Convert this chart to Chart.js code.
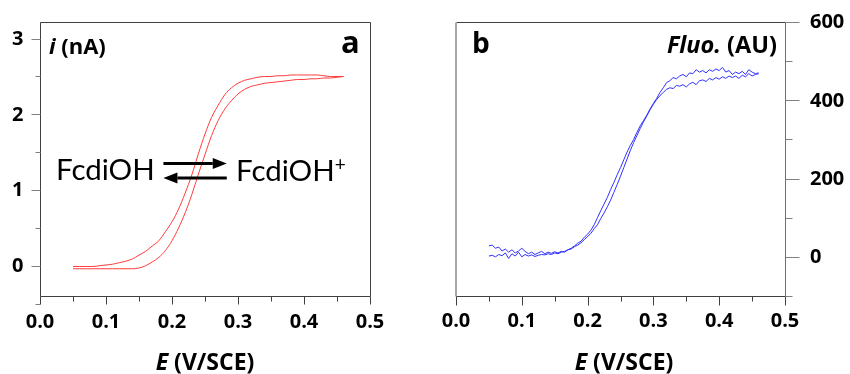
<!DOCTYPE html>
<html>
<head>
<meta charset="utf-8">
<script src="https://cdn.jsdelivr.net/npm/chart.js@4.4.1/dist/chart.umd.min.js"></script>
<style>
  body { margin: 0; background: #fff; width: 850px; height: 374px; position: relative; overflow: hidden; font-family: "Open Sans", sans-serif; }
  canvas { position: absolute; top: 0; }
  .lbl { position: absolute; line-height: 1; white-space: nowrap; color: #000; }
  .b { font-weight: bold; }
  .eq { font-family: Lato, sans-serif; }
  .tk { position: absolute; line-height: 1; white-space: nowrap; color: #000; font-weight: bold; font-size: 20px; }
</style>
</head>
<body>
<canvas id="cv-a" width="400" height="374" style="left:0"></canvas>
<canvas id="cv-b" width="430" height="374" style="left:420px"></canvas>

<div class="lbl b" style="left:49px;top:34px;font-size:22px"><i>i</i> (nA)</div>
<div class="lbl b" style="left:341px;top:26px;font-size:31px">a</div>
<div class="lbl eq" style="left:56px;top:154px;font-size:29.5px">FcdiOH</div>
<div class="lbl eq" style="left:236px;top:154px;font-size:29.5px">FcdiOH<sup style="font-size:19px;vertical-align:10px">+</sup></div>
<div class="lbl b" style="left:105px;width:200px;text-align:center;top:350px;font-size:23px"><i>E</i> (V/SCE)</div>

<div class="lbl b" style="left:472px;top:28px;font-size:28px">b</div>
<div class="lbl b" style="right:73px;top:33px;font-size:23.5px"><i>Fluo.</i> (AU)</div>
<div class="lbl b" style="left:524px;width:200px;text-align:center;top:350px;font-size:23px"><i>E</i> (V/SCE)</div>

<script>
// panel a: cyclic voltammogram, E (V/SCE) vs i (nA)
const eA = [0.05, 0.06, 0.07, 0.08, 0.09, 0.10, 0.11, 0.12, 0.13, 0.14, 0.15, 0.16, 0.17, 0.18,
  0.19, 0.20, 0.21, 0.22, 0.23, 0.24, 0.25, 0.26, 0.27, 0.28, 0.29, 0.30, 0.31, 0.32,
  0.33, 0.34, 0.35, 0.36, 0.37, 0.38, 0.39, 0.40, 0.41, 0.42, 0.43, 0.44, 0.45, 0.46];
const iUpper = [-0.01, -0.01, -0.01, -0.01, 0.00, 0.01, 0.02, 0.04, 0.06, 0.09, 0.14, 0.19, 0.26, 0.33,
  0.45, 0.58, 0.75, 0.96, 1.20, 1.48, 1.74, 1.96, 2.12, 2.26, 2.35, 2.41, 2.45, 2.47,
  2.49, 2.50, 2.50, 2.51, 2.51, 2.52, 2.52, 2.52, 2.52, 2.52, 2.51, 2.50, 2.50, 2.50];
const iLower = [-0.04, -0.04, -0.04, -0.04, -0.04, -0.04, -0.04, -0.04, -0.04, -0.04, -0.03, 0.00, 0.05, 0.11,
  0.20, 0.33, 0.50, 0.70, 0.94, 1.21, 1.47, 1.72, 1.92, 2.07, 2.18, 2.27, 2.33, 2.37,
  2.39, 2.41, 2.42, 2.43, 2.44, 2.45, 2.46, 2.46, 2.47, 2.47, 2.48, 2.48, 2.49, 2.50];

// panel b: fluorescence, two scans
const eB = [0.050, 0.055, 0.060, 0.065, 0.070, 0.075, 0.080, 0.085, 0.090, 0.095,
  0.100, 0.105, 0.110, 0.115, 0.120, 0.125, 0.130, 0.135, 0.140, 0.145,
  0.150, 0.155, 0.160, 0.165, 0.170, 0.175, 0.180, 0.185, 0.190, 0.195,
  0.200, 0.205, 0.210, 0.215, 0.220, 0.225, 0.230, 0.235, 0.240, 0.245,
  0.250, 0.255, 0.260, 0.265, 0.270, 0.275, 0.280, 0.285, 0.290, 0.295,
  0.300, 0.305, 0.310, 0.315, 0.320, 0.325, 0.330, 0.335, 0.340, 0.345,
  0.350, 0.355, 0.360, 0.365, 0.370, 0.375, 0.380, 0.385, 0.390, 0.395,
  0.400, 0.405, 0.410, 0.415, 0.420, 0.425, 0.430, 0.435, 0.440, 0.445,
  0.450, 0.455, 0.460];
const fluoScan1 = [28, 30, 22, 25, 15, 20, 12, 18, 10, 15,
  22, 14, 8, 12, 6, 10, 14, 8, 12, 9,
  13, 10, 14, 12, 18, 22, 28, 35, 40, 50,
  58, 68, 82, 100, 118, 135, 152, 172, 190, 210,
  228, 248, 268, 285, 300, 318, 335, 348, 362, 378,
  392, 405, 420, 432, 445, 450, 458, 455, 462, 466,
  460, 470, 468, 478, 472, 476, 470, 478, 474, 480,
  476, 484, 472, 476, 466, 472, 468, 474, 466, 478,
  472, 468, 470];
const fluoScan2 = [2, 4, 0, 6, 3, 10, -4, 8, 2, 12,
  0, 6, 2, 5, 1, 4, 6, 5, 8, 6,
  10, 8, 12, 14, 18, 20, 26, 30, 36, 44,
  52, 60, 72, 82, 98, 112, 128, 145, 165, 185,
  206, 228, 250, 272, 292, 310, 328, 345, 360, 376,
  390, 402, 412, 420, 428, 432, 430, 438, 436, 440,
  434, 442, 446, 440, 450, 452, 448, 456, 452, 458,
  454, 460, 456, 462, 458, 462, 456, 464, 460, 468,
  462, 466, 468];

// ticks
const eTicks = [0, 0.1, 0.2, 0.3, 0.4, 0.5];
const eMinor = [0.05, 0.15, 0.25, 0.35, 0.45];
const eLabels = ['0.0', '0.1', '0.2', '0.3', '0.4', '0.5'];
const iTicks = [0, 1, 2, 3];
const iMinor = [-0.5, 0.5, 1.5, 2.5];
const iLabels = ['0', '1', '2', '3'];
const fluoTicks = [0, 200, 400, 600];
const fluoMinor = [-100, 100, 300, 500];
const fluoLabels = ['0', '200', '400', '600'];

Chart.defaults.font.family = '"Open Sans", sans-serif';
Chart.defaults.color = '#000';

const pts = (xs, ys) => xs.map((x, k) => ({ x, y: ys[k] }));

// frame lines + major/minor tick marks, and optional arrows
const frameTicks = {
  id: 'frameTicks',
  afterDraw(chart, args, o) {
    const { ctx, chartArea: a, scales } = chart;
    const sx = scales.x, sy = scales.y;
    const L = Math.round(a.left) + 0.5, R = Math.round(a.right) + 0.5;
    const T = Math.round(a.top) + 0.5, B = Math.round(a.bottom) + 0.5;
    ctx.save();
    const line = (x0, y0, x1, y1, c, w) => {
      ctx.strokeStyle = c; ctx.lineWidth = w || 1;
      ctx.beginPath(); ctx.moveTo(x0, y0); ctx.lineTo(x1, y1); ctx.stroke();
    };
    line(L, T, R, T, o.top);
    line(L, B, R, B, o.bottom);
    line(L - (o.leftW > 1 ? 0.5 : 0), T, L - (o.leftW > 1 ? 0.5 : 0), B, o.left, o.leftW);
    line(R, T, R, B, o.right);

    o.xMajor.forEach(v => { const p = Math.round(sx.getPixelForValue(v)) + 0.5; line(p, B, p, B + o.xMajLen, o.xTickColor); });
    o.xMinor.forEach(v => { const p = Math.round(sx.getPixelForValue(v)) + 0.5; line(p, B, p, B + o.xMinLen, o.xTickColor); });
    const yt = (v, len) => {
      const p = Math.round(sy.getPixelForValue(v)) + 0.5;
      if (o.ySide === 'left') line(L - len, p, L, p, o.yTickColor);
      else line(R, p, R + len, p, o.yTickColor);
    };
    o.yMajor.forEach(v => yt(v, o.yMajLen));
    o.yMinor.forEach(v => yt(v, o.yMinLen));

    (o.arrows || []).forEach(ar => {
      const x0 = sx.getPixelForValue(ar.from), x1 = sx.getPixelForValue(ar.to);
      const y = sy.getPixelForValue(ar.y);
      const dir = Math.sign(x1 - x0);
      const head = 14;
      line(x0, y, x1 - dir * head, y, '#000', 3);
      ctx.fillStyle = '#000';
      ctx.beginPath();
      ctx.moveTo(x1, y);
      ctx.lineTo(x1 - dir * head, y - 5.5);
      ctx.lineTo(x1 - dir * head, y + 5.5);
      ctx.closePath();
      ctx.fill();
    });
    ctx.restore();
  }
};

const hiddenTicks = { display: false };
const noGrid = { display: false, drawTicks: false };

// tick labels as text placed from the chart's own scales
function addTickLabels(chart, canvasLeft, yLabelX, yAlign, xLabelTop) {
  const sx = chart.scales.x, sy = chart.scales.y;
  eTicks.forEach((v, k) => {
    const d = document.createElement('div');
    d.className = 'tk';
    d.textContent = eLabels[k];
    d.style.left = (canvasLeft + sx.getPixelForValue(v)) + 'px';
    d.style.top = xLabelTop + 'px';
    d.style.transform = 'translateX(-50%)';
    document.body.appendChild(d);
  });
  const yt = chart === chartA ? iTicks : fluoTicks;
  const yl = chart === chartA ? iLabels : fluoLabels;
  yt.forEach((v, k) => {
    const d = document.createElement('div');
    d.className = 'tk';
    d.textContent = yl[k];
    d.style.left = yLabelX + 'px';
    d.style.top = (sy.getPixelForValue(v) - 10.6) + 'px';
    if (yAlign === 'right') d.style.transform = 'translateX(-100%)';
    document.body.appendChild(d);
  });
}

const chartA = new Chart(document.getElementById('cv-a'), {
  type: 'line',
  data: {
    datasets: [
      { data: pts(eA, iUpper), borderColor: '#ff3b3b', borderWidth: 1, pointRadius: 0, cubicInterpolationMode: 'monotone' },
      { data: pts(eA, iLower), borderColor: '#ff3b3b', borderWidth: 1, pointRadius: 0, cubicInterpolationMode: 'monotone' }
    ]
  },
  options: {
    responsive: false, animation: false,
    layout: { padding: { left: 0, right: 30, top: 22, bottom: 0 } },
    plugins: {
      legend: { display: false }, tooltip: { enabled: false },
      frameTicks: {
        top: '#404040', bottom: '#404040', left: '#404040', right: '#404040', leftW: 1,
        xMajor: eTicks, xMinor: eMinor, xMajLen: 8, xMinLen: 5, xTickColor: '#404040',
        yMajor: iTicks, yMinor: iMinor, yMajLen: 9, yMinLen: 5, yTickColor: '#808080', ySide: 'left',
        arrows: [{ from: 0.187, to: 0.283, y: 1.35 }, { from: 0.283, to: 0.187, y: 1.16 }]
      }
    },
    scales: {
      x: { type: 'linear', min: 0, max: 0.5, afterFit: s => { s.height = 78; }, grid: noGrid, border: { display: false }, ticks: hiddenTicks },
      y: { type: 'linear', min: -0.4, max: 3.22, afterFit: s => { s.width = 40; }, grid: noGrid, border: { display: false }, ticks: hiddenTicks }
    }
  },
  plugins: [frameTicks]
});

const chartB = new Chart(document.getElementById('cv-b'), {
  type: 'line',
  data: {
    datasets: [
      { data: pts(eB, fluoScan1), borderColor: '#3030ff', borderWidth: 1, pointRadius: 0, tension: 0 },
      { data: pts(eB, fluoScan2), borderColor: '#3030ff', borderWidth: 1, pointRadius: 0, tension: 0 }
    ]
  },
  options: {
    responsive: false, animation: false,
    layout: { padding: { left: 36, right: 0, top: 22, bottom: 0 } },
    plugins: {
      legend: { display: false }, tooltip: { enabled: false },
      frameTicks: {
        top: '#404040', bottom: '#404040', left: '#a8a8a8', right: '#707070', leftW: 2,
        xMajor: eTicks, xMinor: eMinor, xMajLen: 9, xMinLen: 5, xTickColor: '#404040',
        yMajor: fluoTicks, yMinor: fluoMinor, yMajLen: 14, yMinLen: 7, yTickColor: '#808080', ySide: 'right'
      }
    },
    scales: {
      x: { type: 'linear', min: 0, max: 0.5, afterFit: s => { s.height = 78; }, grid: noGrid, border: { display: false }, ticks: hiddenTicks },
      y: { type: 'linear', position: 'right', min: -100, max: 600, afterFit: s => { s.width = 65; }, grid: noGrid, border: { display: false }, ticks: hiddenTicks }
    }
  },
  plugins: [frameTicks]
});

addTickLabels(chartA, 0, 23.5, 'right', 310.5);
addTickLabels(chartB, 420, 810, 'left', 309.5);
</script>
</body>
</html>
